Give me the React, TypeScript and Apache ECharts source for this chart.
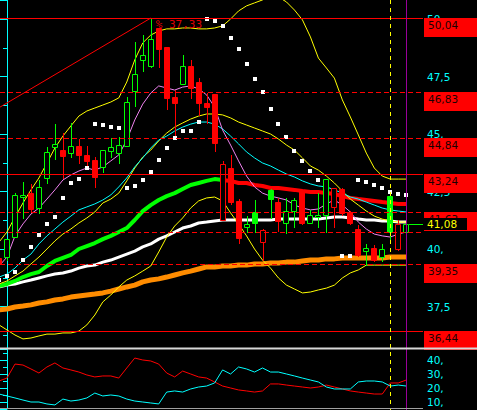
import { useEffect, useRef } from 'react';
import * as echarts from 'echarts';

// x index of the first bar (partially hidden at the left edge)
const FIRST_INDEX = -1;
const X_MIN = -0.8766;
const X_MAX = 52.0977;

// [open, close, low, high] for bars -1 .. 50
const OHLC: number[][] = [
  [39.61, 39.39, 39.35, 39.65],
  [39.65, 40.43, 39.52, 40.43],
  [40.52, 42.35, 40.52, 42.43],
  [42.26, 42.35, 41.35, 42.91],
  [42.43, 41.74, 41.61, 42.83],
  [41.78, 42.70, 41.57, 43.00],
  [43.09, 44.22, 42.87, 44.43],
  [44.43, 44.57, 43.91, 45.43],
  [44.30, 44.04, 43.09, 45.04],
  [44.17, 44.48, 44.00, 45.48],
  [44.48, 44.09, 43.74, 44.78],
  [44.09, 43.83, 43.57, 44.48],
  [43.87, 43.13, 42.70, 44.00],
  [43.57, 44.30, 43.35, 44.30],
  [44.26, 44.43, 44.00, 44.83],
  [44.17, 44.52, 43.74, 44.87],
  [44.48, 46.39, 44.48, 46.61],
  [46.87, 47.61, 46.22, 49.00],
  [48.22, 48.43, 47.74, 49.30],
  [47.96, 49.13, 47.91, 50.04],
  [49.61, 48.70, 47.91, 49.61],
  [48.78, 46.57, 46.09, 48.78],
  [46.61, 46.35, 44.87, 46.91],
  [47.17, 47.96, 47.17, 48.43],
  [47.96, 47.00, 46.57, 48.22],
  [47.26, 46.35, 45.83, 47.43],
  [46.35, 46.17, 45.48, 46.78],
  [46.74, 44.61, 44.26, 46.74],
  [41.26, 43.70, 41.26, 43.83],
  [43.52, 42.04, 41.96, 44.09],
  [42.09, 40.48, 40.26, 42.17],
  [40.96, 41.09, 40.74, 41.43],
  [41.61, 41.13, 40.74, 42.13],
  [40.30, 40.83, 39.52, 40.87],
  [42.57, 42.17, 41.35, 42.61],
  [42.04, 41.22, 40.78, 42.22],
  [41.13, 41.65, 40.70, 42.22],
  [41.65, 42.13, 40.96, 42.22],
  [42.52, 41.13, 41.09, 42.52],
  [41.13, 41.48, 41.13, 41.70],
  [41.39, 41.48, 40.96, 42.43],
  [41.48, 43.04, 40.74, 43.04],
  [41.83, 42.65, 40.96, 42.65],
  [42.61, 41.57, 41.48, 42.65],
  [41.61, 41.13, 41.09, 41.65],
  [40.87, 39.74, 39.70, 41.04],
  [39.91, 40.04, 39.30, 40.22],
  [40.04, 39.52, 39.48, 40.17],
  [39.65, 40.00, 39.48, 40.22],
  [42.30, 40.74, 40.39, 42.43],
  [40.00, 41.09, 39.96, 41.26],
  [40.74, 41.09, 40.52, 41.26],
];

const CANDLE_COLORS = [
  'R', 'G', 'G', 'G', 'R', 'G', 'G', 'G', 'R', 'G', 'R', 'R', 'R', 'G', 'G', 'G', 'G', 'G', 'G', 'G',
  'R', 'R', 'R', 'G', 'R', 'R', 'R', 'R', 'R', 'R', 'R', 'G', 'G', 'R', 'G', 'R', 'G', 'G', 'R', 'G',
  'G', 'G', 'R', 'R', 'R', 'R', 'G', 'R', 'G', 'G', 'R', 'G',
];

const UPPER_BAND = [40.30, 40.74, 41.39, 42.00, 42.57, 43.09, 43.74, 44.39, 44.91, 45.35, 45.78, 46.00, 46.13, 46.26, 46.39, 46.57, 47.26, 48.22, 48.96, 49.30, 49.48, 49.57, 49.57, 49.61, 49.61, 49.57, 49.57, 49.61, 49.70, 50.00, 50.35, 50.57, 50.70, 50.83, 51.00, 50.96, 50.74, 50.39, 49.96, 49.22, 48.30, 47.87, 47.43, 46.48, 45.74, 44.96, 44.17, 43.52, 43.17, 43.04, 43.04, 43.04];
const MID_BAND = [38.48, 38.61, 38.83, 39.04, 39.35, 39.65, 40.00, 40.35, 40.65, 40.87, 41.13, 41.35, 41.61, 42.00, 42.17, 42.43, 42.96, 43.52, 44.00, 44.30, 44.70, 45.04, 45.30, 45.48, 45.65, 45.78, 45.87, 45.87, 45.83, 45.70, 45.52, 45.39, 45.26, 45.13, 45.00, 44.78, 44.52, 44.30, 43.96, 43.61, 43.43, 43.17, 42.87, 42.52, 42.17, 41.91, 41.65, 41.43, 41.30, 41.22, 41.17, 41.17];
const LOWER_BAND = [36.70, 36.48, 36.26, 36.09, 36.13, 36.22, 36.30, 36.30, 36.35, 36.35, 36.43, 36.70, 37.13, 37.70, 38.00, 38.35, 38.65, 38.83, 39.04, 39.26, 39.87, 40.52, 41.00, 41.35, 41.78, 42.09, 42.22, 42.26, 42.09, 41.57, 41.09, 40.57, 40.00, 39.52, 39.17, 38.74, 38.43, 38.26, 38.09, 38.13, 38.22, 38.30, 38.43, 38.74, 38.96, 39.09, 39.30, 39.30, 39.30, 39.30, 39.30, 39.30];
const FAST_MA = [39.26, 39.65, 40.57, 41.09, 41.52, 41.78, 42.17, 42.57, 43.00, 43.22, 43.39, 43.52, 43.43, 43.57, 43.83, 44.09, 44.74, 45.61, 46.30, 46.78, 47.09, 47.00, 46.91, 47.04, 47.09, 46.96, 46.70, 46.17, 45.17, 44.52, 43.83, 43.17, 42.70, 42.43, 42.30, 42.22, 42.13, 41.91, 41.78, 41.70, 41.74, 41.96, 42.13, 41.91, 41.61, 41.17, 40.87, 40.65, 40.57, 40.52, 40.65, 40.74];
const CYAN_MA = [38.78, 38.91, 39.17, 39.52, 39.78, 40.22, 40.57, 40.87, 41.17, 41.43, 41.70, 41.83, 41.96, 42.13, 42.35, 42.70, 43.09, 43.57, 43.96, 44.39, 44.74, 44.91, 45.13, 45.30, 45.43, 45.52, 45.52, 45.43, 45.22, 44.91, 44.57, 44.22, 43.96, 43.74, 43.61, 43.43, 43.26, 43.13, 42.96, 42.83, 42.74, 42.70, 42.57, 42.43, 42.26, 42.17, 42.04, 41.91, 41.78, 41.70, 41.65, 41.61];
const TREND_MA = [38.39, 38.48, 38.61, 38.78, 38.91, 39.00, 39.26, 39.48, 39.61, 39.74, 40.00, 40.13, 40.26, 40.43, 40.57, 40.74, 40.91, 41.26, 41.65, 41.91, 42.13, 42.30, 42.43, 42.61, 42.78, 42.87, 42.96, 43.04, 43.00, 42.96, 42.87, 42.87, 42.78, 42.74, 42.65, 42.65, 42.61, 42.57, 42.52, 42.48, 42.48, 42.43, 42.39, 42.30, 42.22, 42.17, 42.13, 42.09, 42.04, 42.00, 41.96, 41.96];
const TREND_TURN = 28; // position in TREND_MA where the line turns from rising (green) to falling (red)
const WHITE_MA = [38.35, 38.43, 38.48, 38.57, 38.65, 38.74, 38.83, 38.91, 38.96, 39.04, 39.17, 39.26, 39.30, 39.43, 39.52, 39.65, 39.78, 39.91, 40.09, 40.22, 40.43, 40.57, 40.74, 40.91, 41.00, 41.13, 41.17, 41.22, 41.26, 41.26, 41.26, 41.26, 41.26, 41.26, 41.26, 41.30, 41.30, 41.30, 41.30, 41.30, 41.30, 41.35, 41.39, 41.39, 41.35, 41.30, 41.26, 41.26, 41.22, 41.22, 41.17, 41.17];
const ORANGE_MA = [37.35, 37.39, 37.48, 37.52, 37.57, 37.65, 37.70, 37.78, 37.83, 37.91, 37.96, 38.00, 38.04, 38.09, 38.17, 38.26, 38.35, 38.43, 38.57, 38.65, 38.70, 38.78, 38.87, 38.96, 39.04, 39.13, 39.22, 39.22, 39.26, 39.26, 39.30, 39.30, 39.35, 39.35, 39.39, 39.39, 39.43, 39.43, 39.48, 39.52, 39.52, 39.57, 39.57, 39.61, 39.61, 39.61, 39.61, 39.61, 39.61, 39.65, 39.65, 39.65];
const SAR: (number | null)[] = [38.65, 38.83, 39.00, 39.52, 40.09, 40.61, 41.09, 41.39, 42.22, 42.87, 43.04, 43.52, 45.43, 45.39, 45.30, 45.26, 42.65, 42.74, 43.00, 43.35, 43.87, 44.39, 44.83, 45.13, 45.13, 45.52, 50.00, 49.91, 49.70, 49.17, 48.70, 48.04, 47.39, 46.83, 46.09, 45.43, 44.87, 44.26, 43.83, 43.39, 43.00, null, null, 39.70, 39.70, 43.00, 42.91, 42.78, 42.65, 42.48, 42.39, 42.35];

const LOWER_RED = [25.0, 27.1, 37.1, 36.4, 33.6, 30.7, 35.0, 37.9, 34.3, 32.9, 31.4, 29.3, 27.9, 28.6, 28.6, 27.1, 34.3, 41.4, 40.0, 39.3, 37.1, 30.7, 27.9, 32.1, 30.0, 27.9, 27.1, 24.3, 21.4, 20.0, 18.6, 17.9, 17.1, 17.9, 22.9, 22.9, 22.1, 21.4, 20.7, 20.0, 20.7, 22.1, 20.7, 19.3, 17.9, 17.1, 16.4, 15.7, 15.7, 23.6, 23.6, 25.7];
const LOWER_CYAN = [15.7, 14.3, 12.9, 11.4, 10.0, 10.0, 8.6, 7.9, 12.1, 10.7, 11.4, 12.9, 16.4, 14.3, 15.0, 14.3, 12.1, 10.7, 10.0, 9.3, 8.6, 17.1, 17.9, 17.1, 19.3, 20.7, 21.4, 23.6, 32.9, 30.0, 35.0, 33.6, 31.4, 34.3, 31.4, 31.4, 30.0, 28.6, 27.1, 25.7, 24.3, 20.7, 19.3, 19.3, 19.3, 24.3, 25.0, 25.0, 24.3, 21.4, 22.1, 21.4];

const LEVELS = [50.04, 46.83, 44.84, 43.24, 41.63, 40.74, 39.35, 36.44];
const LEVEL_DASHED = [false, true, true, false, true, true, true, false];
const LEVEL_LABELS = ['50,04', '46,83', '44,84', '43,24', '41,63', '', '39,35', '36,44'];
const BID = 41.08;
const BID_LABEL = '41,08';
const BID_START = 50.35;
const TREND_FROM = [X_MIN, 46.17];
const TREND_TO = [18, 50.04];
const TREND_LABEL = '% 37,33';
const VLINES = [48, 50];
const VLINE_COLORS = ['#ffff00', '#990099'];
const VLINE_DASHED = [true, false];

const GREEN = '#00ff00';
const RED = '#ff0000';
const CYAN = '#00ffff';
const FONT = 'DejaVu Sans';

const MAIN_MAX = 50.8261;

const pairs = (arr: (number | null)[], from = 0) =>
  arr
    .map((v, k) => [k + FIRST_INDEX, v] as [number, number | null])
    .filter((p, k) => k >= from && p[1] !== null);

const lineSeries = (data: any[], color: string, width: number, grid = 0, z = 2) => ({
  type: 'line',
  xAxisIndex: grid,
  yAxisIndex: grid,
  data,
  showSymbol: false,
  symbol: 'none',
  silent: true,
  z,
  lineStyle: { color, width },
});

const fmtMain = (v: number) => {
  if (v < 36 || v > 50.5) return '';
  const s = String(v).replace('.', ',');
  return Number.isInteger(v) ? s + ',' : s;
};

export default function App() {
  const ref = useRef<HTMLDivElement>(null);
  useEffect(() => {
    const chart = echarts.init(ref.current!, undefined, { renderer: 'svg' });

    const xBase = { type: 'value', min: X_MIN, max: X_MAX, show: false, splitLine: { show: false } };
    const axisCommon = {
      type: 'value',
      position: 'right',
      splitLine: { show: false },
      axisLine: { show: true, lineStyle: { color: CYAN, width: 1 } },
      axisTick: { show: true, inside: true, length: 8, lineStyle: { color: CYAN } },
      minorTick: { show: true, splitNumber: 2, length: 4, lineStyle: { color: CYAN } },
    };

    const option: any = {
      backgroundColor: '#000',
      animation: false,
      grid: [
        { left: 0, top: 0, width: 423, height: 364 },
        { left: 0, top: 349, width: 423, height: 60 },
      ],
      xAxis: [
        { ...xBase, gridIndex: 0 },
        { ...xBase, gridIndex: 1 },
      ],
      yAxis: [
        {
          ...axisCommon,
          gridIndex: 0,
          min: 35,
          max: MAIN_MAX,
          interval: 2.5,
          axisLabel: { color: CYAN, fontFamily: FONT, fontSize: 10.5, margin: 4, formatter: fmtMain },
        },
        {
          ...axisCommon,
          gridIndex: 1,
          min: 5,
          max: 47.857,
          splitNumber: 5,
          z: 3,
          axisLabel: {
            color: CYAN,
            fontFamily: FONT,
            fontSize: 10.5,
            margin: 4,
            formatter: (v: number) => ([10, 20, 30, 40].indexOf(v) >= 0 ? `${v},` : ''),
          },
        },
      ],
      graphic: [
        { type: 'rect', z: 1, silent: true, shape: { x: 0, y: 349.5, width: 477, height: 61 }, style: { fill: '#000' } },
        { type: 'rect', z: 1, silent: true, shape: { x: 412, y: 0, width: 10.5, height: 14 }, style: { fill: '#000' } },
        { type: 'line', z: 10, silent: true, shape: { x1: 0, y1: 348.5, x2: 477, y2: 348.5 }, style: { stroke: '#d8d8d8', lineWidth: 2 } },
        { type: 'line', z: 10, silent: true, shape: { x1: 0, y1: 408.5, x2: 423, y2: 408.5 }, style: { stroke: '#a0a0a0', lineWidth: 1 } },
      ],
      series: [
        lineSeries(pairs(ORANGE_MA), '#ff8c00', 5),
        lineSeries(pairs(WHITE_MA), '#ffffff', 3),
        lineSeries(pairs(TREND_MA.slice(0, TREND_TURN + 1)), GREEN, 4),
        lineSeries(pairs(TREND_MA, TREND_TURN), RED, 4),
        lineSeries(pairs(LOWER_BAND), '#ffff00', 1),
        lineSeries(pairs(MID_BAND), '#ffff00', 1),
        lineSeries(pairs(UPPER_BAND), '#ffff00', 1),
        lineSeries(pairs(CYAN_MA), CYAN, 1),
        lineSeries(pairs(FAST_MA), '#ee82ee', 1),
        // candles
        {
          type: 'custom',
          xAxisIndex: 0,
          yAxisIndex: 0,
          z: 3,
          silent: true,
          clip: true,
          encode: { x: 0, y: [1, 2, 3, 4] },
          data: OHLC.map((r, k) => [k + FIRST_INDEX, ...r]),
          renderItem: (params: any, api: any) => {
            const x = api.value(0);
            const o = api.value(1);
            const c = api.value(2);
            const pO = api.coord([x, o]);
            const pC = api.coord([x, c]);
            const pL = api.coord([x, api.value(3)]);
            const pH = api.coord([x, api.value(4)]);
            const cx = Math.round(pO[0]);
            const color = CANDLE_COLORS[params.dataIndex] === 'G' ? GREEN : RED;
            const bull = c >= o;
            const top = Math.round(Math.min(pO[1], pC[1]));
            const bot = Math.round(Math.max(pO[1], pC[1]));
            return {
              type: 'group',
              children: [
                {
                  type: 'line',
                  shape: { x1: cx + 0.5, y1: Math.round(pH[1]), x2: cx + 0.5, y2: Math.round(pL[1]) + 1 },
                  style: { stroke: color, lineWidth: 1 },
                },
                {
                  type: 'rect',
                  shape: { x: cx - 2.5, y: top + 0.5, width: 5, height: Math.max(bot - top, 1) },
                  style: { fill: bull ? '#000' : color, stroke: color, lineWidth: 1 },
                },
              ],
            };
          },
        },
        // parabolic SAR dots
        {
          type: 'custom',
          xAxisIndex: 0,
          yAxisIndex: 0,
          z: 4,
          silent: true,
          clip: true,
          encode: { x: 0, y: 1 },
          data: pairs(SAR),
          renderItem: (_p: any, api: any) => {
            const p = api.coord([api.value(0), api.value(1)]);
            return {
              type: 'rect',
              shape: { x: Math.round(p[0]) - 2, y: Math.round(p[1]) - 2, width: 4, height: 4 },
              style: { fill: '#ffffff' },
            };
          },
        },
        // horizontal level lines with price boxes
        {
          type: 'custom',
          xAxisIndex: 0,
          yAxisIndex: 0,
          z: 5,
          silent: true,
          clip: false,
          encode: { x: 0, y: 1 },
          data: LEVELS.map((v) => [X_MIN, v]),
          renderItem: (params: any, api: any) => {
            const k = params.dataIndex;
            const cs = params.coordSys;
            const row = Math.round(api.coord([api.value(0), api.value(1)])[1]);
            const right = cs.x + cs.width;
            const children: any[] = [
              {
                type: 'line',
                shape: { x1: cs.x, y1: row + 0.5, x2: right, y2: row + 0.5 },
                style: { stroke: RED, lineWidth: 1, lineDash: LEVEL_DASHED[k] ? [5, 3] : null },
              },
            ];
            if (LEVEL_LABELS[k]) {
              children.push(
                { type: 'rect', shape: { x: right + 1, y: row, width: 53, height: 19 }, style: { fill: RED } },
                {
                  type: 'text',
                  style: {
                    text: LEVEL_LABELS[k],
                    x: right + 5,
                    y: row + 7,
                    fill: '#1a0000',
                    fontSize: 10.5,
                    fontFamily: FONT,
                    align: 'left',
                    verticalAlign: 'middle',
                  },
                },
              );
            }
            return { type: 'group', children };
          },
        },
        // bid line and its box, trend line and its label
        {
          type: 'custom',
          xAxisIndex: 0,
          yAxisIndex: 0,
          z: 6,
          silent: true,
          clip: false,
          encode: { x: 0, y: 1 },
          data: [[BID_START, BID]],
          renderItem: (params: any, api: any) => {
            const cs = params.coordSys;
            const right = cs.x + cs.width;
            const p = api.coord([api.value(0), api.value(1)]);
            const row = Math.round(p[1]);
            const a = api.coord(TREND_FROM);
            const b = api.coord(TREND_TO);
            return {
              type: 'group',
              children: [
                {
                  type: 'line',
                  shape: { x1: a[0], y1: a[1], x2: b[0], y2: b[1] },
                  style: { stroke: RED, lineWidth: 1 },
                },
                {
                  type: 'text',
                  style: {
                    text: TREND_LABEL,
                    x: b[0] + 5,
                    y: b[1] + 6,
                    fill: '#e00000',
                    fontSize: 11,
                    fontFamily: 'DejaVu Sans Mono',
                    align: 'left',
                    verticalAlign: 'middle',
                  },
                },
                {
                  type: 'line',
                  shape: { x1: Math.round(p[0]), y1: row + 0.5, x2: right, y2: row + 0.5 },
                  style: { stroke: GREEN, lineWidth: 1 },
                },
                { type: 'rect', shape: { x: right + 1, y: row - 6, width: 43, height: 12 }, style: { fill: '#000' } },
                {
                  type: 'text',
                  style: {
                    text: BID_LABEL,
                    x: right + 4,
                    y: row,
                    fill: '#ffff00',
                    fontSize: 10.5,
                    fontFamily: FONT,
                    align: 'left',
                    verticalAlign: 'middle',
                  },
                },
              ],
            };
          },
        },
        // vertical markers across both panes
        {
          type: 'custom',
          xAxisIndex: 0,
          yAxisIndex: 0,
          z: 7,
          silent: true,
          clip: false,
          encode: { x: 0, y: 1 },
          data: VLINES.map((x) => [x, 40]),
          renderItem: (params: any, api: any) => {
            const k = params.dataIndex;
            const px = Math.round(api.coord([api.value(0), api.value(1)])[0]) + 0.5;
            return {
              type: 'line',
              shape: { x1: px, y1: 0, x2: px, y2: 410 },
              style: { stroke: VLINE_COLORS[k], lineWidth: 1, lineDash: VLINE_DASHED[k] ? [4, 4] : null },
            };
          },
        },
        lineSeries(pairs(LOWER_RED), RED, 1, 1, 3),
        lineSeries(pairs(LOWER_CYAN), CYAN, 1, 1, 3),
      ],
    };

    chart.setOption(option);
    return () => chart.dispose();
  }, []);

  return <div ref={ref} style={{ position: 'absolute', left: 0, top: 0, width: 477, height: 410 }} />;
}
